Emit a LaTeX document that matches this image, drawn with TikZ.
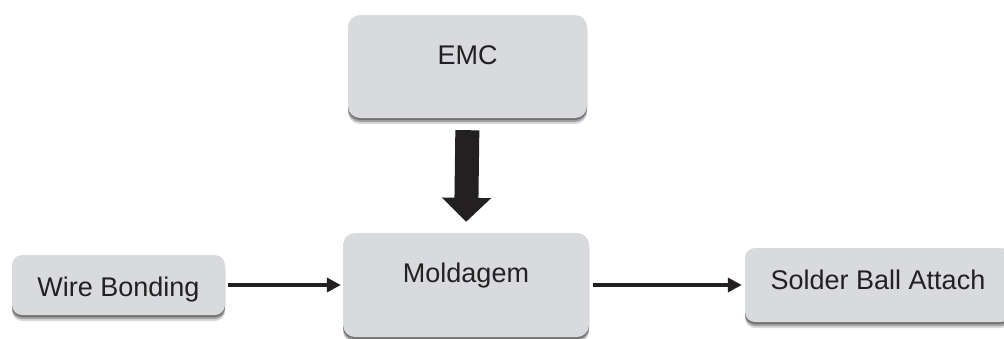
\documentclass[tikz,border=0pt]{standalone}
\usepackage{fontspec}
\setmainfont{Liberation Sans}
\usetikzlibrary{shadows,arrows.meta}
\definecolor{boxgray}{RGB}{217,218,221}
\definecolor{ink}{RGB}{35,32,33}
\tikzset{
  procbox/.style={draw=none, fill=boxgray, rounded corners=12pt, inner xsep=0pt, inner ysep=0pt,
    font=\fontsize{27}{30}\selectfont, text=ink,
    drop shadow={shadow xshift=0pt, shadow yshift=-6pt, opacity=.15, fill=black},
    drop shadow={shadow xshift=0pt, shadow yshift=-4pt, opacity=.25, fill=black},
    drop shadow={shadow xshift=0pt, shadow yshift=-2pt, opacity=.3, fill=black}},
  flow/.style={draw=ink, line width=3.5pt, -{Triangle[length=14pt,width=14pt]}},
  bigflow/.style={draw=ink, line width=24pt, -{Triangle[length=24pt,width=48pt]}}
}
\begin{document}
\begin{tikzpicture}[x=1pt,y=-1pt]
  \useasboundingbox (0,0) rectangle (1004,338);
  % process boxes
  \node[procbox, minimum width=239pt, text height=49.5pt, text depth=53.5pt] (emc) at (467.5,66.5) {EMC};
  \node[procbox, minimum width=246pt, text height=49.5pt, text depth=54.5pt] (mold) at (466,285) {Moldagem};
  \node[procbox, rounded corners=10pt, minimum width=213pt, text height=41.5pt, text depth=18.5pt] (wb) at (118.5,285) {Wire Bonding};
  \node[procbox, rounded corners=10pt, minimum width=266pt, text height=41.5pt, text depth=32.5pt] (sba) at (878,285) {Solder Ball Attach};
  % connectors
  \draw[bigflow, shorten <=12pt, shorten >=11pt] (emc.south) -- (mold.north);
  \draw[flow, shorten <=3pt, shorten >=2pt] (wb.east) -- (mold.west);
  \draw[flow, shorten <=4pt, shorten >=3pt] (mold.east) -- (sba.west);
\end{tikzpicture}
\end{document}
